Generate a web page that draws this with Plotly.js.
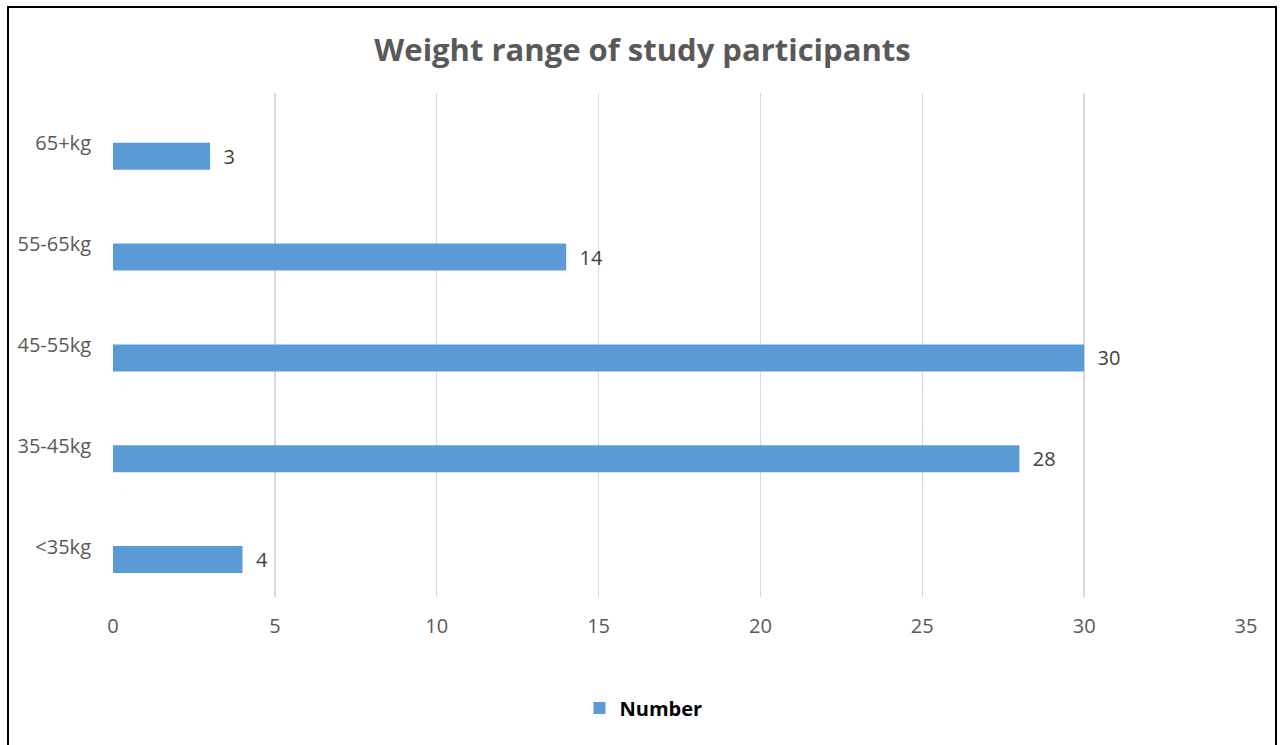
<!DOCTYPE html>
<html>
<head>
<meta charset="utf-8">
<script src="https://cdn.plot.ly/plotly-3.0.1.min.js"></script>
<style>
html,body{margin:0;padding:0;background:#fff;}
#chart{width:1285px;height:745px;}
</style>
</head>
<body>
<div id="chart"></div>
<script>
const categories = ["<35kg", "35-45kg", "45-55kg", "55-65kg", "65+kg"];
const numbers = [4, 28, 30, 14, 3];
const seriesName = "Number";
const xTicks = [0, 5, 10, 15, 20, 25, 30, 35];

const plotL = 113, plotR = 1246, plotT = 93, plotB = 597;
const W = 1285, H = 745;
const pw = plotR - plotL, ph = plotB - plotT;
const px = v => (v - plotL) / pw;
const py = v => (plotB - v) / ph;
const FONT = "'Open Sans', 'Noto Sans', sans-serif";

const trace = {
  type: "bar",
  orientation: "h",
  name: seriesName,
  y: categories,
  x: numbers,
  marker: {color: "#5b9bd5"},
  width: 0.268,
  offset: -0.262,
  text: numbers.map(String),
  texttemplate: "\u00a0\u00a0%{x}",
  textposition: "outside",
  constraintext: "none",
  cliponaxis: false,
  textfont: {family: FONT, size: 20, color: "#404040"},
  hoverinfo: "x+y"
};

const layout = {
  width: W, height: H,
  margin: {l: plotL, r: W - plotR, t: plotT, b: H - plotB},
  paper_bgcolor: "#ffffff",
  plot_bgcolor: "#ffffff",
  title: {
    text: "<b>Weight range of study participants</b>",
    font: {family: FONT, size: 31, color: "#595959"},
    x: 0.5, xanchor: "center", xref: "container",
    y: 1 - 50 / H, yanchor: "middle", yref: "container"
  },
  xaxis: {
    range: [0, 35],
    tickvals: xTicks,
    showgrid: true, gridcolor: "#d9d9d9", gridwidth: 1.5,
    zeroline: false, showline: false,
    ticks: "",
    tickfont: {family: FONT, size: 20, color: "#595959"},
    ticklabelstandoff: 15,
    fixedrange: true
  },
  yaxis: {
    type: "category",
    categoryorder: "array", categoryarray: categories,
    range: [-0.5, 4.5],
    showgrid: false, zeroline: false, showline: false,
    ticks: "",
    tickfont: {family: FONT, size: 20, color: "#595959"},
    ticklabelstandoff: 21,
    fixedrange: true
  },
  showlegend: true,
  legend: {
    orientation: "h",
    x: 0.5 - 36 / pw, xanchor: "center",
    y: py(708), yanchor: "middle",
    font: {family: FONT, size: 20, color: "#000000", weight: "bold"},
    bgcolor: "rgba(0,0,0,0)"
  },
  shapes: [{
    type: "rect", xref: "paper", yref: "paper",
    x0: px(8), x1: px(1276), y0: py(760), y1: py(7),
    line: {color: "#000000", width: 2},
    fillcolor: "rgba(0,0,0,0)",
    layer: "above"
  }]
};

Plotly.newPlot("chart", [trace], layout, {displayModeBar: false, staticPlot: true});
</script>
</body>
</html>
